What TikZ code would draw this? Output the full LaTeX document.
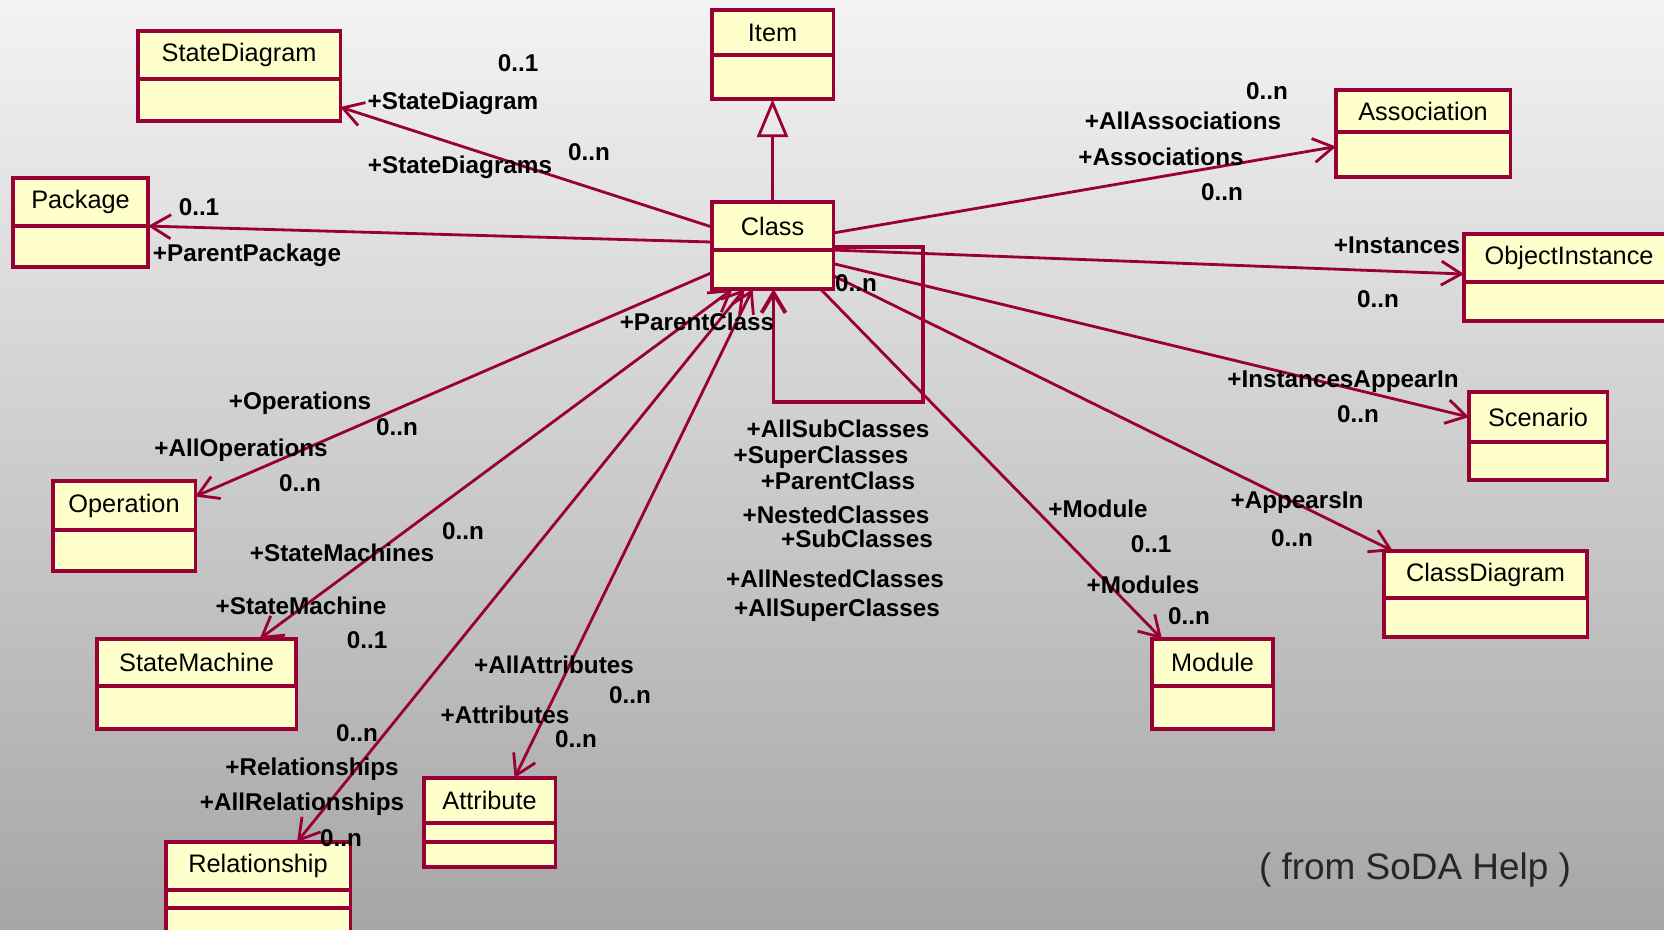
\documentclass[tikz,border=0pt]{standalone}
\usepackage{fontspec}
\setmainfont{Liberation Sans}
\usepackage{tikz}
\usetikzlibrary{arrows.meta}
\usetikzlibrary{calc}
\usetikzlibrary{positioning}

\definecolor{umlred}{RGB}{153,0,51}
\definecolor{umlfill}{RGB}{255,255,204}
\definecolor{bgtop}{RGB}{243,243,243}
\definecolor{bgbot}{RGB}{166,166,166}

\begin{document}
\begin{tikzpicture}[
    x = 0.01cm, y = -0.01cm,
    font = \fontsize{7.2}{8}\selectfont,
    head/.style = {
      rectangle, draw = umlred, fill = umlfill, line width = 0.9pt,
      anchor = north west, inner sep = 1pt, outer sep = 0pt,
    },
    body/.style = {
      rectangle, draw = umlred, fill = umlfill, line width = 0.9pt,
      inner sep = 0pt, outer sep = 0pt,
    },
    role/.style = {inner sep = 0pt, font = \fontsize{6.9}{8}\selectfont\bfseries},
  ]
        \useasboundingbox (0,0) rectangle (1664,929);
        \shade[top color = bgtop, bottom color = bgbot] (0,0) rectangle (1664,929);
        \clip (0,0) rectangle (1664,929);

        % classes
        \node[head, minimum width = 1.21cm, minimum height = 0.45cm] (item) at (712,10) {Item};
        \node[body, minimum width = 1.21cm, minimum height = 0.44cm, below = 0pt of item] (itemb) {};
        \node[head, minimum width = 1.21cm, minimum height = 0.48cm] (cls) at (712,202) {Class};
        \node[body, minimum width = 1.21cm, minimum height = 0.39cm, below = 0pt of cls] (clsb) {};
        \node[head, minimum width = 2.02cm, minimum height = 0.48cm] (sd) at (138,31) {StateDiagram};
        \node[body, minimum width = 2.02cm, minimum height = 0.42cm, below = 0pt of sd] (sdb) {};
        \node[head, minimum width = 1.35cm, minimum height = 0.48cm] (pkg) at (13,178) {Package};
        \node[body, minimum width = 1.35cm, minimum height = 0.41cm, below = 0pt of pkg] (pkgb) {};
        \node[head, minimum width = 1.74cm, minimum height = 0.42cm] (assoc) at (1336,90) {Association};
        \node[body, minimum width = 1.74cm, minimum height = 0.45cm, below = 0pt of assoc] (assocb) {};
        \node[head, minimum width = 2.10cm, minimum height = 0.48cm] (obj) at (1464,234) {ObjectInstance};
        \node[body, minimum width = 2.10cm, minimum height = 0.39cm, below = 0pt of obj] (objb) {};
        \node[head, minimum width = 1.38cm, minimum height = 0.50cm] (scen) at (1469,392) {Scenario};
        \node[body, minimum width = 1.38cm, minimum height = 0.38cm, below = 0pt of scen] (scenb) {};
        \node[head, minimum width = 1.42cm, minimum height = 0.49cm] (op) at (53,481) {Operation};
        \node[body, minimum width = 1.42cm, minimum height = 0.41cm, below = 0pt of op] (opb) {};
        \node[head, minimum width = 1.99cm, minimum height = 0.47cm, line width = 1.2pt] (sm) at (97,639) {StateMachine};
        \node[body, minimum width = 1.99cm, minimum height = 0.43cm, below = 0pt of sm] (smb) {};
        \node[head, minimum width = 1.84cm, minimum height = 0.48cm] (rel) at (166,842) {Relationship};
        \node[body, minimum width = 1.84cm, minimum height = 0.18cm, below = 0pt of rel] (relb) {};
        \node[body, minimum width = 1.84cm, minimum height = 0.40cm, below = 0pt of relb] (relc) {};
        \node[head, minimum width = 1.31cm, minimum height = 0.45cm] (attr) at (424,778) {Attribute};
        \node[body, minimum width = 1.31cm, minimum height = 0.19cm, below = 0pt of attr] (attrb) {};
        \node[body, minimum width = 1.31cm, minimum height = 0.25cm, below = 0pt of attrb] (attrc) {};
        \node[head, minimum width = 1.21cm, minimum height = 0.47cm, line width = 1.2pt] (mod) at (1152,639) {Module};
        \node[body, minimum width = 1.21cm, minimum height = 0.43cm, below = 0pt of mod] (modb) {};
        \node[head, minimum width = 2.03cm, minimum height = 0.47cm, line width = 1.2pt] (cd) at (1384,551) {ClassDiagram};
        \node[body, minimum width = 2.03cm, minimum height = 0.39cm, below = 0pt of cd] (cdb) {};

        \begin{scope}[umlred, line width = 0.8pt, >={Straight Barb[length = 2mm, width = 2.4mm]}]
          \draw[-{Triangle[open, length = 3.8mm, width = 3.1mm]}] (cls.north) -- (itemb.south);

          \draw[->] ([shift={(0,1)}]cls.west) -- ([shift={(0,7)}]sdb.east);
          \draw[->] ([shift={(0,16)}]cls.west) -- (pkg.south east);
          \draw[->] ([shift={(0,3)}]clsb.west) -- ([shift={(0,-9)}]op.east);

          \draw[->] ([shift={(0,7)}]cls.east) -- ([shift={(0,-8)}]assocb.west);
          \draw[->] (cls.south east) -- ([shift={(0,16)}]obj.west);
          \draw[->] ([shift={(0,-6)}]clsb.east) -- (scen.west);
          \draw[->] ([shift={(0,6)}]clsb.east) -- ([shift={(9,0)}]cd.north west);
          \draw[->] ([shift={(48,0)}]clsb.south) -- ([shift={(10,0)}]mod.north west);

          \draw[<->] ([shift={(-40,0)}]clsb.south) -- ([shift={(63,0)}]sm.north);
          \draw[<->] ([shift={(-28,0)}]clsb.south) -- ([shift={(39,0)}]rel.north);
          \draw[<->] ([shift={(-20,0)}]clsb.south) -- ([shift={(25,0)}]attr.north);

          \draw[->, line width = 1.1pt] ([shift={(0,-3)}]cls.south east) -- ++(90,0) -- ++(0,155)
            -| ([shift={(1,0)}]clsb.south);
        \end{scope}

        \node[role] (sdm1) at (518,63) {0..1};
        \node[role] (sdr1) at (453,103) {+StateDiagram};
        \node[role] (sdr2) at (460,167) {+StateDiagrams};
        \node[role] (sdm2) at (589,152) {0..n};
        \node[role] (pkgm) at (199,207) {0..1};
        \node[role] (pkgr) at (247,255) {+ParentPackage};

        \node[role] (assocm1) at (1267,91) {0..n};
        \node[role] (assocr1) at (1183,121) {+AllAssociations};
        \node[role] (assocr2) at (1161,157) {+Associations};
        \node[role] (assocm2) at (1222,192) {0..n};
        \node[role] (objr) at (1397,245) {+Instances};
        \node[role] (objm) at (1378,299) {0..n};
        \node[role] (scenr) at (1343,382) {+InstancesAppearIn};
        \node[role] (scenm) at (1358,414) {0..n};
        \node[role] (cdr) at (1297,503) {+AppearsIn};
        \node[role] (cdm) at (1292,538) {0..n};
        \node[role] (modr1) at (1098,509) {+Module};
        \node[role] (modm1) at (1151,544) {0..1};
        \node[role] (modr2) at (1143,585) {+Modules};
        \node[role] (modm2) at (1189,616) {0..n};

        \node[role] (opr1) at (300,403) {+Operations};
        \node[role] (opm1) at (397,427) {0..n};
        \node[role] (opr2) at (241,450) {+AllOperations};
        \node[role] (opm2) at (300,483) {0..n};
        \node[role] (smm1) at (463,531) {0..n};
        \node[role] (smr1) at (342,553) {+StateMachines};
        \node[role] (smr2) at (301,606) {+StateMachine};
        \node[role] (smm2) at (367,640) {0..1};
        \node[role] (relm1) at (357,733) {0..n};
        \node[role] (relr1) at (312,769) {+Relationships};
        \node[role] (relr2) at (302,804) {+AllRelationships};
        \node[role] (relm2) at (341,838) {0..n};
        \node[role] (attrr1) at (554,665) {+AllAttributes};
        \node[role] (attrm1) at (630,695) {0..n};
        \node[role] (attrr2) at (505,715) {+Attributes};
        \node[role] (attrm2) at (576,739) {0..n};
        \node[role] (clsr) at (697,322) {+ParentClass};
        \node[role] (clsm) at (856,283) {0..n};

        \node[role] (selfr1) at (838,429) {+AllSubClasses};
        \node[role] (selfr2) at (821,457) {+SuperClasses};
        \node[role] (selfr3) at (838,481) {+ParentClass};
        \node[role] (selfr4) at (836,515) {+NestedClasses};
        \node[role] (selfr5) at (857,539) {+SubClasses};
        \node[role] (selfr6) at (835,579) {+AllNestedClasses};
        \node[role] (selfr7) at (837,610) {+AllSuperClasses};

        \node[font = \fontsize{10.5}{12}\selectfont, text = black!85] (src) at (1415,870) {( from SoDA Help )};
      \end{tikzpicture}
\end{document}
